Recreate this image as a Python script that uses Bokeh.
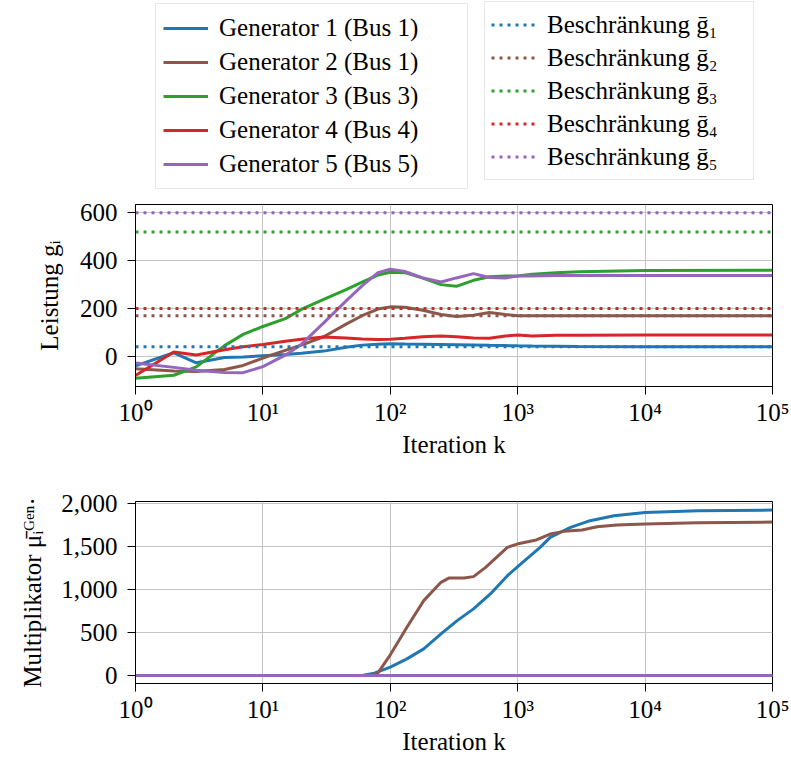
from bokeh.plotting import figure
from bokeh.layouts import column
from bokeh.models import Legend, LegendItem, NumeralTickFormatter, Range1d
from bokeh.embed import file_html
from bokeh.resources import INLINE

FONT = "Liberation Serif"
FS = "25px"

# ---- generator output g_i over the iterations ----
k_g = [1, 2, 3, 5, 7, 10, 15, 20, 30, 45, 60, 80, 100, 130, 180, 250, 330,
       450, 600, 800, 1000, 1300, 2000, 3000, 10000, 100000]
g1 = [-40, 15, -27, -5, -3, 3, 8, 13, 22, 38, 47, 51, 53, 52, 51, 50, 49,
      48, 46, 45, 44, 43, 42, 41, 40, 40]
g2 = [-52, -61, -63, -55, -38, -7, 25, 47, 82, 135, 170, 198, 207, 205, 193, 175, 167,
      172, 183, 175, 170, 170, 170, 170, 170, 170]
g3 = [-92, -79, -44, 45, 92, 125, 158, 196, 238, 279, 310, 340, 352, 350, 327, 300, 293,
      318, 333, 336, 336, 343, 350, 354, 359, 360]
g4 = [-80, 18, 6, 28, 40, 50, 63, 72, 81, 77, 73, 71, 72, 76, 82, 85, 82,
      77, 76, 85, 89, 85, 88, 88, 89, 89]
g5 = [-28, -46, -58, -67, -68, -43, 5, 50, 140, 232, 295, 350, 364, 355, 328, 311, 328,
      346, 330, 328, 336, 336, 338, 338, 338, 338]

# upper limits g_bar_i
limits = [40, 170, 520, 200, 600]
k_lim = [1, 100000]

# ---- multipliers mu_bar_i^Gen. ----
k_mu1 = [1, 60, 75, 100, 135, 183, 250, 335, 450, 610, 830, 1000, 1260, 1500,
         1800, 2600, 3700, 5700, 10000, 26000, 100000]
mu1 = [0, 0, 27, 97, 193, 309, 483, 638, 774, 948, 1160, 1265, 1393, 1489,
       1605, 1721, 1799, 1857, 1895, 1915, 1922]
k_mu2 = [1, 70, 80, 100, 135, 183, 250, 290, 380, 450, 560, 830, 1030, 1400,
         1800, 2300, 3200, 4200, 6000, 10000, 26000, 100000]
mu2 = [0, 0, 30, 240, 561, 870, 1083, 1134, 1134, 1149, 1257, 1489, 1535, 1575,
       1644, 1675, 1691, 1729, 1749, 1760, 1775, 1783]
k_mu0 = [1, 100000]
mu3 = [0, 0]
mu4 = [0, 0]
mu5 = [0, 0]

colors = ["#1f77b4", "#8c564b", "#2ca02c", "#d62728", "#9467bd"]
gen_labels = ["Generator 1 (Bus 1)", "Generator 2 (Bus 1)", "Generator 3 (Bus 3)",
              "Generator 4 (Bus 4)", "Generator 5 (Bus 5)"]
lim_labels = ["Beschränkung ḡ₁", "Beschränkung ḡ₂", "Beschränkung ḡ₃",
              "Beschränkung ḡ₄", "Beschränkung ḡ₅"]
x_ticks = [1, 10, 100, 1000, 10000, 100000]
x_tick_text = {1: "10⁰", 10: "10¹", 100: "10²", 1000: "10³", 10000: "10⁴", 100000: "10⁵"}

SOLID = dict(line_width=3)
DOTTED = dict(line_width=3, line_dash="3 5")
gen_series = [g1, g2, g3, g4, g5]


def style(p, y_ticks):
    p.outline_line_color = "black"
    p.outline_line_width = 1
    p.xaxis.ticker = x_ticks
    p.xaxis.major_label_overrides = x_tick_text
    p.yaxis.ticker = y_ticks
    for ax in (p.xaxis[0], p.yaxis[0]):
        ax.axis_line_color = "black"
        ax.major_tick_line_color = "black"
        ax.major_tick_out = 8
        ax.major_tick_in = 0
        ax.minor_tick_out = 0
        ax.minor_tick_in = 0
        ax.major_label_text_font = FONT
        ax.major_label_text_font_size = FS
        ax.major_label_text_color = "black"
        ax.axis_label_text_font = FONT
        ax.axis_label_text_font_size = FS
        ax.axis_label_text_font_style = "normal"
        ax.axis_label_text_color = "black"
    p.xaxis.major_label_standoff = 4
    p.yaxis.major_label_standoff = 10
    p.xaxis.axis_label_standoff = 2
    p.yaxis.axis_label_standoff = 14
    p.grid.grid_line_color = "#c4c4c4"
    p.grid.grid_line_width = 1


# ---- legend strip above the plots (its frame lines up with the plot frames) ----
head = figure(width=791, height=190, x_axis_type="log",
              x_range=Range1d(1e6, 1e7), y_range=Range1d(5000, 6000),
              min_border_left=135, min_border_right=19, min_border_top=0,
              min_border_bottom=0, x_axis_location=None, y_axis_location=None,
              toolbar_location=None, output_backend="svg")
head.outline_line_color = None
head.grid.visible = False

# legend keys: the same series, outside the strip's visible ranges
gen_keys = [head.line(k_g, s, line_color=c, **SOLID) for s, c in zip(gen_series, colors)]
lim_keys = [head.line(k_lim, [lim, lim], line_color=c, **DOTTED)
            for lim, c in zip(limits, colors)]


def make_legend(items, loc, label_width, row_h, pad, standoff):
    return Legend(items=items, location=loc, orientation="vertical",
                  border_line_color="#cfcfcf", border_line_width=1,
                  background_fill_color="white", background_fill_alpha=1,
                  glyph_width=45, glyph_height=row_h, label_height=row_h, spacing=0,
                  padding=pad, margin=0, label_standoff=standoff,
                  label_width=label_width,
                  label_text_font=FONT, label_text_font_size=FS,
                  label_text_color="black")


head.add_layout(make_legend([LegendItem(label=l, renderers=[r])
                             for l, r in zip(gen_labels, gen_keys)],
                            (20, 1), 241, 34, 7, 11))
head.add_layout(make_legend([LegendItem(label=l, renderers=[r])
                             for l, r in zip(lim_labels, lim_keys)],
                            (349, 10), 200, 33, 6, 11))

# ---- top panel: generator output ----
top = figure(width=791, height=270, x_axis_type="log",
             x_range=Range1d(1, 100000), y_range=Range1d(-126, 635),
             min_border_left=135, min_border_right=19, min_border_top=14,
             min_border_bottom=74, toolbar_location=None, output_backend="svg")
style(top, [0, 200, 400, 600])
top.xaxis.axis_label = "Iteration k"
top.yaxis.axis_label = "Leistung gᵢ"

for s, c in zip(gen_series, colors):
    top.line(k_g, s, line_color=c, **SOLID)
for lim, c in zip(limits, colors):
    top.line(k_lim, [lim, lim], line_color=c, **DOTTED)

# ---- bottom panel: multipliers ----
bot = figure(width=791, height=309, x_axis_type="log",
             x_range=Range1d(1, 100000), y_range=Range1d(-93, 2022),
             min_border_left=135, min_border_right=19, min_border_top=41,
             min_border_bottom=86, toolbar_location=None, output_backend="svg")
style(bot, [0, 500, 1000, 1500, 2000])
bot.yaxis.formatter = NumeralTickFormatter(format="0,0")
bot.xaxis.axis_label = "Iteration k"
bot.yaxis.axis_label = "Multiplikator μ̄ᵢᴳᵉⁿ·"
bot.yaxis.axis_label_standoff = 12

mu_series = [(k_mu1, mu1), (k_mu2, mu2), (k_mu0, mu3), (k_mu0, mu4), (k_mu0, mu5)]
for (kk, s), c in zip(mu_series, colors):
    bot.line(kk, s, line_color=c, **SOLID)

layout = column(head, top, bot, spacing=0)
open("out.html", "w").write(file_html(layout, INLINE))
